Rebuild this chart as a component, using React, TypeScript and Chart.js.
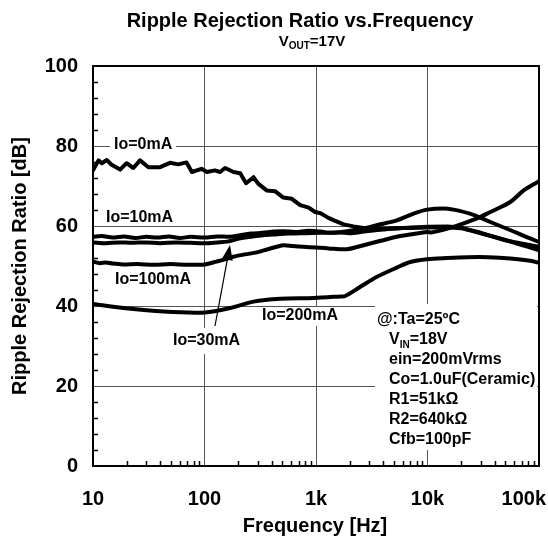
import React, { useEffect, useRef } from "react";
import Chart from "chart.js/auto";

// ---------- data ----------
const f0 = [10, 11.2, 12, 13.3, 14.7, 17.5, 20, 23, 26.4, 31.4, 40, 49, 58, 69, 77, 94, 105, 124, 138, 153, 182, 209, 236, 275, 303, 361, 429, 509, 607, 722, 860, 981, 1100, 1280, 1450, 1770, 2170, 2860, 4000, 6000, 10000, 15000, 20000, 30000, 50000, 100000];
const db0 = [73.9, 76.4, 75.7, 76.5, 75.3, 74.1, 75.7, 74.5, 76.4, 74.7, 74.7, 75.8, 75.4, 75.9, 73.5, 74.3, 73.5, 73.9, 73.5, 74.5, 73.5, 73.2, 70.7, 72.2, 70.6, 68.9, 68.7, 67.1, 66.8, 65.2, 64.6, 63.5, 63.2, 62.1, 61.4, 60.4, 59.9, 59.4, 59.3, 59.5, 59.8, 59.9, 59.6, 58.3, 56.4, 54.8];

const f10 = [10, 12, 15, 19, 24, 30, 38, 48, 60, 75, 100, 130, 170, 209, 260, 330, 420, 509, 650, 850, 1100, 1340, 1900, 2670, 3500, 5300, 7500, 9900, 14000, 17100, 24000, 36600, 55000, 75000, 100000];
const db10 = [57.3, 57.5, 57.1, 57.4, 57.0, 57.3, 57.1, 57.4, 57.0, 57.3, 57.1, 57.4, 57.3, 57.7, 58.1, 58.3, 58.6, 58.7, 58.5, 58.8, 58.6, 58.3, 58.7, 59.4, 60.2, 61.4, 63.1, 64.1, 64.4, 64.1, 63.1, 61.0, 59.0, 57.4, 56.0];

const f30 = [10, 13, 17, 22, 30, 40, 55, 75, 100, 130, 160, 209, 260, 335, 430, 587, 800, 1100, 1640, 2000, 2700, 4000, 6000, 10000, 15000, 20000, 30000, 50000, 70000, 100000];
const db30 = [55.9, 55.7, 55.9, 55.8, 55.9, 55.7, 55.9, 55.8, 55.7, 55.9, 56.1, 56.9, 57.3, 57.7, 57.9, 58.1, 58.2, 58.3, 58.4, 58.2, 58.6, 59.1, 59.5, 59.6, 59.7, 59.4, 58.2, 56.5, 55.2, 54.0];

const f100 = [10, 11.5, 13, 15, 18.6, 25, 35, 50, 70, 101, 128, 150, 181, 230, 295, 370, 445, 509, 620, 769, 1000, 1300, 1900, 2670, 3800, 5300, 7500, 9900, 11000, 17100, 27800, 36600, 55300, 72900, 100000];
const db100 = [51.1, 50.7, 50.9, 50.6, 50.4, 50.5, 50.3, 50.5, 50.3, 50.4, 51.1, 51.6, 52.3, 52.9, 53.4, 54.2, 54.8, 55.2, 55.0, 54.8, 54.6, 54.4, 54.2, 55.2, 56.3, 57.3, 58.0, 58.5, 58.4, 59.8, 61.9, 63.5, 66.0, 68.9, 71.2];

const f200 = [10, 18.7, 42.8, 101, 170, 275, 477, 950, 1650, 1830, 2500, 3520, 5300, 7000, 9900, 15000, 22700, 35000, 55300, 83700, 100000];
const db200 = [40.5, 39.5, 38.6, 38.4, 39.5, 41.1, 41.8, 42.0, 42.4, 42.5, 44.8, 47.3, 49.6, 51.0, 51.7, 52.0, 52.2, 52.2, 51.9, 51.3, 50.8];

const xTickValues = [10, 100, 1000, 10000, 100000];
const xTickLabels = ["10", "100", "1k", "10k", "100k"];
const yTickValues = [0, 20, 40, 60, 80, 100];

const titleText = "Ripple Rejection Ratio vs.Frequency";
const xTitle = "Frequency [Hz]";
const yTitle = "Ripple Rejection Ratio [dB]";
const conditions = ["ein=200mVrms", "Co=1.0uF(Ceramic)", "R1=51kΩ", "R2=640kΩ", "Cfb=100pF"];

// ---------- helpers ----------
const FONT = '"Liberation Sans", Arial, Helvetica, sans-serif';
function setFont(ctx: CanvasRenderingContext2D, size: number) {
  ctx.font = `bold ${size}px ${FONT}`;
}
function txt(ctx: CanvasRenderingContext2D, s: string, x: number, y: number, size: number, align: CanvasTextAlign = "left") {
  setFont(ctx, size);
  ctx.textAlign = align;
  ctx.textBaseline = "middle";
  ctx.fillText(s, x, y);
}
// draws base + subscript + rest, starting at left x
function subText(ctx: CanvasRenderingContext2D, base: string, sub: string, rest: string, x: number, y: number, size: number, subSize: number) {
  ctx.textAlign = "left";
  ctx.textBaseline = "middle";
  setFont(ctx, size);
  ctx.fillText(base, x, y);
  let cx = x + ctx.measureText(base).width;
  setFont(ctx, subSize);
  ctx.fillText(sub, cx, y + size * 0.3);
  cx += ctx.measureText(sub).width;
  setFont(ctx, size);
  ctx.fillText(rest, cx, y);
}
function subWidth(ctx: CanvasRenderingContext2D, base: string, sub: string, rest: string, size: number, subSize: number) {
  setFont(ctx, size);
  let w = ctx.measureText(base).width + ctx.measureText(rest).width;
  setFont(ctx, subSize);
  w += ctx.measureText(sub).width;
  return w;
}
const isDecade = (v: number) => Math.abs(Math.log10(v) - Math.round(Math.log10(v))) < 1e-9;

const whiteBoxes = [
  [110, 137, 66, 17],
  [170, 328, 74, 26],
  [258, 307, 86, 19],
  [375, 304, 162, 146],
];

const decor = {
  id: "decor",
  beforeDatasetsDraw(chart: any) {
    const ctx = chart.ctx as CanvasRenderingContext2D;
    ctx.save();
    ctx.fillStyle = "#ffffff";
    whiteBoxes.forEach(([x, y, w, h]) => ctx.fillRect(x, y, w, h));
    ctx.restore();
  },
  afterDraw(chart: any) {
    const ctx = chart.ctx as CanvasRenderingContext2D;
    const { left, right, top, bottom } = chart.chartArea;
    const xs = chart.scales.x;
    const ys = chart.scales.y;
    ctx.save();
    ctx.fillStyle = "#000";
    ctx.strokeStyle = "#000";

    // minor ticks (inward)
    ctx.lineWidth = 1.5;
    ctx.beginPath();
    for (let v = 4; v < 100; v += 4) {
      if (v % 20 === 0) continue;
      const py = Math.round(ys.getPixelForValue(v)) + 0.5;
      ctx.moveTo(left, py);
      ctx.lineTo(left + 5, py);
    }
    for (let k = 1; k <= 4; k++) {
      for (let m = 2; m <= 9; m++) {
        const px = Math.round(xs.getPixelForValue(m * Math.pow(10, k))) + 0.5;
        ctx.moveTo(px, bottom);
        ctx.lineTo(px, bottom - 5);
      }
    }
    ctx.stroke();

    // frame
    ctx.lineWidth = 2;
    ctx.strokeRect(left, top, right - left, bottom - top);

    // tick labels
    yTickValues.forEach((v) => txt(ctx, String(v), 78, ys.getPixelForValue(v), 20, "right"));
    xTickValues.forEach((v, i) => {
      setFont(ctx, 20);
      const w = ctx.measureText(xTickLabels[i]).width;
      let px = xs.getPixelForValue(v);
      if (px + w / 2 > 546) px = 546 - w / 2;
      txt(ctx, xTickLabels[i], px, 499, 20, "center");
    });

    // titles
    txt(ctx, titleText, 300, 21, 20, "center");
    const sw = subWidth(ctx, "V", "OUT", "=17V", 15, 10);
    subText(ctx, "V", "OUT", "=17V", 312 - sw / 2, 42, 15, 10);
    txt(ctx, xTitle, 315, 526, 20, "center");
    ctx.save();
    ctx.translate(20, 266);
    ctx.rotate(-Math.PI / 2);
    txt(ctx, yTitle, 0, 0, 20, "center");
    ctx.restore();

    // series labels
    txt(ctx, "Io=0mA", 114, 145, 16);
    txt(ctx, "Io=10mA", 106, 218, 16);
    txt(ctx, "Io=100mA", 115, 280, 16);
    txt(ctx, "Io=30mA", 173, 341, 16);
    txt(ctx, "Io=200mA", 262, 316, 16);

    // arrow
    const tx = 230, ty = 245, sx = 215, sy = 326;
    const ang = Math.atan2(ty - sy, tx - sx);
    ctx.lineWidth = 1.2;
    ctx.beginPath();
    ctx.moveTo(sx, sy);
    ctx.lineTo(tx - 12 * Math.cos(ang), ty - 12 * Math.sin(ang));
    ctx.stroke();
    ctx.beginPath();
    ctx.moveTo(tx, ty);
    ctx.lineTo(tx - 15 * Math.cos(ang) + 5.5 * Math.sin(ang), ty - 15 * Math.sin(ang) - 5.5 * Math.cos(ang));
    ctx.lineTo(tx - 15 * Math.cos(ang) - 5.5 * Math.sin(ang), ty - 15 * Math.sin(ang) + 5.5 * Math.cos(ang));
    ctx.closePath();
    ctx.fill();

    // conditions block
    txt(ctx, "@:Ta=25ºC", 377, 320, 16);
    subText(ctx, "V", "IN", "=18V", 389, 340, 16, 10);
    conditions.forEach((s, i) => txt(ctx, s, 389, 360 + i * 20, 16));

    ctx.restore();
  },
};

function series(f: number[], d: number[], tension: number) {
  return {
    data: f.map((x, i) => ({ x, y: d[i] })),
    borderColor: "#000",
    borderWidth: 4,
    pointRadius: 0,
    tension,
    fill: false,
    borderJoinStyle: "round" as const,
    borderCapStyle: "round" as const,
  };
}

export default function App() {
  const ref = useRef<HTMLCanvasElement>(null);
  useEffect(() => {
    if (!ref.current) return;
    const chart = new Chart(ref.current, {
      type: "line",
      data: {
        datasets: [
          series(f0, db0, 0),
          series(f10, db10, 0.3),
          series(f30, db30, 0.3),
          series(f100, db100, 0.3),
          series(f200, db200, 0.3),
        ],
      },
      options: {
        responsive: false,
        maintainAspectRatio: false,
        animation: false,
        devicePixelRatio: 1,
        layout: { padding: { top: 66, right: 9, left: 0, bottom: 0 } },
        plugins: { legend: { display: false }, title: { display: false }, tooltip: { enabled: false } },
        scales: {
          x: {
            type: "logarithmic",
            min: 10,
            max: 100000,
            ticks: { display: false, autoSkip: false },
            grid: {
              color: (c: any) => (c.tick && isDecade(c.tick.value) ? "#555" : "rgba(0,0,0,0)"),
              lineWidth: 1,
              drawTicks: false,
            },
            border: { display: false },
            afterFit: (s: any) => {
              s.height = 75;
              s.paddingLeft = 0;
              s.paddingRight = 0;
            },
          },
          y: {
            type: "linear",
            min: 0,
            max: 100,
            ticks: { display: false, stepSize: 20 },
            grid: {
              color: (c: any) => (c.tick && c.tick.value > 0 && c.tick.value < 100 ? "#555" : "rgba(0,0,0,0)"),
              lineWidth: 1,
              drawTicks: false,
            },
            border: { display: false },
            afterFit: (s: any) => {
              s.width = 93;
              s.paddingTop = 0;
              s.paddingBottom = 0;
            },
          },
        },
      },
      plugins: [decor],
    } as any);
    return () => chart.destroy();
  }, []);
  return (
    <div style={{ position: "fixed", left: 0, top: 0, width: 548, height: 541, background: "#fff" }}>
      <canvas ref={ref} width={548} height={541} style={{ width: 548, height: 541, display: "block" }} />
    </div>
  );
}
